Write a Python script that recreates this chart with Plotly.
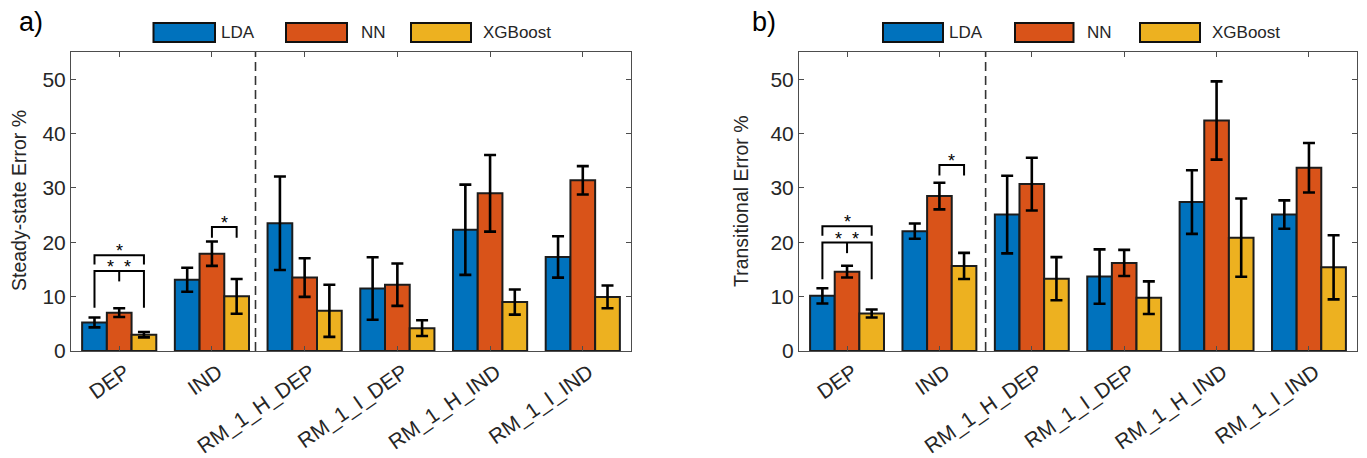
import plotly.graph_objects as go

# ---------------- data ----------------
categories = ["DEP", "IND", "RM_1_H_DEP", "RM_1_I_DEP", "RM_1_H_IND", "RM_1_I_IND"]
models = ["LDA", "NN", "XGBoost"]

# a) steady-state error (%)
ss_lda = [5.25, 13.1, 23.5, 11.5, 22.3, 17.3]
ss_lda_err = [0.9, 2.2, 8.6, 5.75, 8.3, 3.8]
ss_nn = [7.05, 17.9, 13.5, 12.2, 29.0, 31.4]
ss_nn_err = [0.8, 2.25, 3.55, 3.9, 7.05, 2.6]
ss_xgb = [3.0, 10.05, 7.4, 4.2, 9.0, 9.95]
ss_xgb_err = [0.5, 3.2, 4.8, 1.45, 2.3, 2.1]

# b) transitional error (%)
tr_lda = [10.15, 22.05, 25.1, 13.7, 27.4, 25.1]
tr_lda_err = [1.4, 1.4, 7.15, 5.0, 5.85, 2.6]
tr_nn = [14.6, 28.5, 30.7, 16.2, 42.4, 33.7]
tr_nn_err = [1.08, 2.45, 4.85, 2.4, 7.2, 4.55]
tr_xgb = [6.9, 15.65, 13.3, 9.8, 20.85, 15.4]
tr_xgb_err = [0.73, 2.4, 3.96, 3.0, 7.2, 5.9]

# significance brackets: (group, bar_from, bar_to, bracket level, leg end, mid-tick end or None, label)
sig_a = [
    (0, 0, 2, 17.6, 15.9, None, "*"),
    (0, 0, 2, 14.7, 7.95, 12.8, "**"),
    (1, 1, 2, 22.8, 20.85, None, "*"),
]
sig_b = [
    (0, 0, 2, 22.95, 21.2, None, "*"),
    (0, 0, 2, 19.95, 13.2, 18.0, "**"),
    (1, 1, 2, 34.2, 32.3, None, "*"),
]

colors = ["#0072BD", "#D95319", "#EDB120"]
W, H = 1367, 458
TXT = "#262626"
FONT = "Liberation Sans, Arial, sans-serif"

fig = go.Figure()

panels = [
    dict(xa="x", ya="y", vals=[(ss_lda, ss_lda_err), (ss_nn, ss_nn_err), (ss_xgb, ss_xgb_err)],
         sig=sig_a, sep=1.47, ylabel="Steady-state Error %", ylab_x=19,
         tag="a)", tag_x=31, legend=[(153.5, 215, 219), (286, 347, 359), (411, 471, 481)]),
    dict(xa="x2", ya="y2", vals=[(tr_lda, tr_lda_err), (tr_nn, tr_nn_err), (tr_xgb, tr_xgb_err)],
         sig=sig_b, sep=1.5, ylabel="Transitional Error %", ylab_x=741,
         tag="b)", tag_x=764, legend=[(883, 943, 947), (1015, 1073.5, 1085), (1140, 1200, 1210)]),
]

xs = list(range(len(categories)))
bw = 0.8 / 3
offsets = [-bw, 0.0, bw]

shapes = []
annotations = []

def px_x(p):
    return p / W

def px_y(p):
    return 1 - p / H

for pn in panels:
    for k, (m, (v, e)) in enumerate(zip(models, pn["vals"])):
        fig.add_trace(go.Bar(
            x=xs, y=v, name=m, xaxis=pn["xa"], yaxis=pn["ya"],
            offsetgroup=str(k), showlegend=False,
            marker=dict(color=colors[k], line=dict(color="#1c1c1c", width=2)),
            error_y=dict(type="data", array=e, visible=True, color="black",
                         thickness=2.6, width=6),
        ))
    xr, yr = pn["xa"], pn["ya"]
    # dashed separator
    shapes.append(dict(type="line", xref=xr, yref=yr + " domain", x0=pn["sep"], x1=pn["sep"],
                       y0=0, y1=1, line=dict(color="#333333", width=1.6, dash="9px,5px")))
    # significance brackets
    for (g, a, b, lvl, leg, mid, lab) in pn["sig"]:
        xa_ = g + offsets[a]
        xb_ = g + offsets[b]
        path = f"M {xa_} {leg} L {xa_} {lvl} L {xb_} {lvl} L {xb_} {leg}"
        shapes.append(dict(type="path", xref=xr, yref=yr, path=path,
                           line=dict(color="black", width=2)))
        if mid is not None:
            xm = (xa_ + xb_) / 2
            shapes.append(dict(type="line", xref=xr, yref=yr, x0=xm, x1=xm, y0=lvl, y1=mid,
                               line=dict(color="black", width=2)))
        xc = (xa_ + xb_) / 2
        star_x = [xc] if lab == "*" else [xc - 0.092, xc + 0.092]
        for sx in star_x:
            annotations.append(dict(x=sx, y=lvl, xref=xr, yref=yr, text="*", showarrow=False,
                                    yanchor="bottom", yshift=-8,
                                    font=dict(family=FONT, size=18, color="black")))
    # y label
    annotations.append(dict(x=px_x(pn["ylab_x"]), y=px_y(201), xref="paper", yref="paper",
                            text=pn["ylabel"], textangle=-90, showarrow=False,
                            xanchor="center", yanchor="middle",
                            font=dict(family=FONT, size=19.5, color=TXT)))
    # panel tag
    annotations.append(dict(x=px_x(pn["tag_x"]), y=px_y(22), xref="paper", yref="paper",
                            text=pn["tag"], showarrow=False, xanchor="center", yanchor="middle",
                            font=dict(family=FONT, size=27, color="black")))
    # custom legend
    for k, (bx0, bx1, tx) in enumerate(pn["legend"]):
        shapes.append(dict(type="rect", xref="paper", yref="paper",
                           x0=px_x(bx0), x1=px_x(bx1), y0=px_y(42), y1=px_y(23),
                           fillcolor=colors[k], line=dict(color="#111111", width=2)))
        annotations.append(dict(x=px_x(tx), y=px_y(32.5), xref="paper", yref="paper",
                                text=models[k], showarrow=False, xanchor="left",
                                yanchor="middle", font=dict(family=FONT, size=17, color=TXT)))

axis_common = dict(showline=True, linecolor="#4d4d4d", linewidth=1, mirror="ticks",
                   ticks="inside", ticklen=5, tickcolor="#4d4d4d", showgrid=False,
                   zeroline=False, automargin=False)

xaxis_cfg = dict(axis_common, range=[-0.52, 5.52], tickvals=xs, ticktext=categories,
                 tickangle=-35, ticklabelshift=6,
                 tickfont=dict(family=FONT, size=21, color=TXT))
yaxis_cfg = dict(axis_common, range=[0, 55], tickvals=[0, 10, 20, 30, 40, 50],
                 tickfont=dict(family=FONT, size=21, color=TXT))

y_dom = [1 - 351 / H, 1 - 52 / H]

fig.update_layout(
    width=W, height=H, autosize=False,
    margin=dict(l=0, r=0, t=0, b=0, pad=0),
    paper_bgcolor="white", plot_bgcolor="white",
    barmode="group", bargap=0.2, bargroupgap=0,
    xaxis=dict(xaxis_cfg, domain=[71 / W, 631 / W], anchor="y"),
    yaxis=dict(yaxis_cfg, domain=y_dom, anchor="x"),
    xaxis2=dict(xaxis_cfg, domain=[799 / W, 1357 / W], anchor="y2"),
    yaxis2=dict(yaxis_cfg, domain=y_dom, anchor="x2"),
    shapes=shapes, annotations=annotations,
    showlegend=False,
    font=dict(family=FONT, color=TXT),
)

fig.write_html(
    "out.html",
    config={"responsive": False, "displayModeBar": False},
    post_script="document.body.style.margin='0px';document.body.style.overflow='hidden';",
)
